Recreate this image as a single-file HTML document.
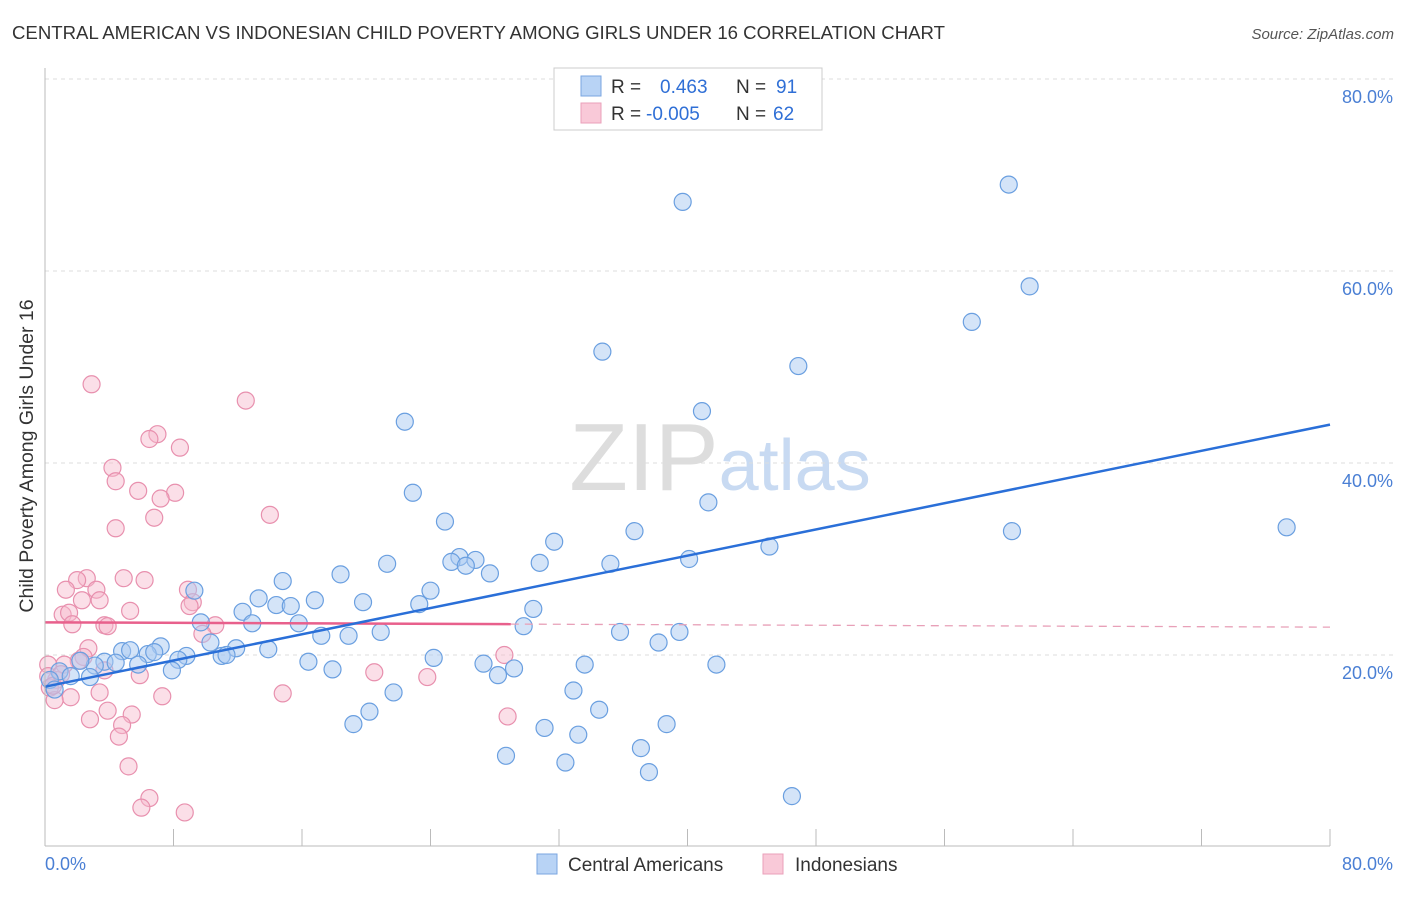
<!DOCTYPE html>
<html><head><meta charset="utf-8"><style>
body{margin:0;background:#fff;font-family:"Liberation Sans",sans-serif;}
svg text{font-family:"Liberation Sans",sans-serif;}
</style></head><body>
<svg width="1406" height="892" xmlns="http://www.w3.org/2000/svg" id="chart">
<text x="12" y="39" font-size="18.6" fill="#333">CENTRAL AMERICAN VS INDONESIAN CHILD POVERTY AMONG GIRLS UNDER 16 CORRELATION CHART</text>
<text x="1394" y="39" font-size="15" fill="#555" text-anchor="end" font-style="italic">Source: ZipAtlas.com</text>
<text x="720" y="490" font-size="96" fill="#ddd" text-anchor="middle" font-family="Liberation Serif">ZIP<tspan fill="#c8daf2" font-family="Liberation Sans" font-size="72">atlas</tspan></text>
<text transform="translate(33,456) rotate(-90)" font-size="19.5" fill="#333" text-anchor="middle">Child Poverty Among Girls Under 16</text>
<g id="grid"></g><g id="pts"></g><g id="lines"></g>
<line x1="45" y1="68" x2="45" y2="846" stroke="#bbb"/>
<line x1="45" y1="846" x2="1330" y2="846" stroke="#bbb"/>
<text x="45" y="870" font-size="18" fill="#4a7fd4">0.0%</text>
<text x="1393" y="870" font-size="18" fill="#4a7fd4" text-anchor="end">80.0%</text>
<g>
<rect x="554" y="68" width="268" height="62" fill="#fff" stroke="#ccc"/>
<rect x="581" y="76" width="20" height="20" fill="#b8d3f5" stroke="#7aa6e0"/>
<rect x="581" y="103" width="20" height="20" fill="#f9c9d8" stroke="#eaa0ba"/>
<text x="611" y="93" font-size="19" fill="#333">R = <tspan x="660" fill="#2f6fd6">0.463</tspan><tspan x="736" fill="#333">N = </tspan><tspan x="776" fill="#2f6fd6">91</tspan></text>
<text x="611" y="120" font-size="19" fill="#333">R = <tspan x="646" fill="#2f6fd6">-0.005</tspan><tspan x="736" fill="#333">N = </tspan><tspan x="773" fill="#2f6fd6">62</tspan></text>
</g>
<g>
<rect x="537" y="854" width="20" height="20" fill="#b8d3f5" stroke="#7aa6e0"/>
<text x="568" y="871" font-size="19" fill="#333">Central Americans</text>
<rect x="763" y="854" width="20" height="20" fill="#f9c9d8" stroke="#eaa0ba"/>
<text x="795" y="871" font-size="19" fill="#333">Indonesians</text>
</g>
</svg>
<script>
const yTicks=[20,40,60,80];
const xTicks=[0,8,16,24,32,40,48,56,64,72,80];
const blueX=[39.7,60.0,61.3,57.7,34.7,46.9,40.9,22.4,22.9,41.3,24.9,36.7,77.3,60.2,31.7,45.1,25.8,25.3,26.8,26.2,40.1,30.8,35.2,21.3,27.7,18.4,14.8,24.0,9.3,13.3,16.8,19.8,23.3,14.4,15.3,12.3,30.4,12.9,9.7,15.8,29.8,20.9,35.8,39.5,17.2,18.9,38.2,10.3,7.2,11.9,13.9,4.8,5.3,6.4,6.8,8.8,8.3,11.0,11.3,24.2,16.4,3.7,4.4,3.1,2.2,5.8,33.6,41.8,27.3,29.2,28.2,17.9,7.9,0.9,1.6,2.8,0.3,0.6,21.7,32.9,34.5,20.2,19.2,31.1,38.7,33.2,37.1,28.7,32.4,37.6,46.5];
const blueY=[67.2,69.0,58.4,54.7,51.6,50.1,45.4,44.3,36.9,35.9,33.9,32.9,33.3,32.9,31.8,31.3,30.2,29.7,29.9,29.3,30.0,29.6,29.5,29.5,28.5,28.4,27.7,26.7,26.7,25.9,25.7,25.5,25.3,25.2,25.1,24.5,24.8,23.3,23.4,23.3,23.0,22.4,22.4,22.4,22.0,22.0,21.3,21.3,20.9,20.7,20.6,20.4,20.5,20.1,20.3,19.9,19.5,19.9,20.0,19.7,19.3,19.3,19.2,18.9,19.4,19.0,19.0,19.0,19.1,18.6,17.9,18.5,18.4,18.3,17.8,17.7,17.4,16.4,16.1,16.3,14.3,14.1,12.8,12.4,12.8,11.7,10.3,9.5,8.8,7.8,5.3];
const pinkX=[2.9,12.5,7.0,6.5,8.4,4.2,4.4,5.8,8.1,7.2,14.0,6.8,4.4,4.9,6.2,2.6,2.0,8.9,1.3,3.2,2.3,3.4,9.2,9.0,5.3,1.1,1.5,1.7,3.7,3.9,10.6,9.8,2.7,2.4,2.1,1.2,0.2,28.6,3.7,5.9,20.5,23.8,0.7,0.3,3.4,1.6,0.6,7.3,14.8,3.9,5.4,2.8,28.8,4.8,4.6,5.2,6.5,6.0,8.7,0.2,0.5,1.0];
const pinkY=[48.2,46.5,43.0,42.5,41.6,39.5,38.1,37.1,36.9,36.3,34.6,34.3,33.2,28.0,27.8,28.0,27.8,26.8,26.8,26.8,25.7,25.7,25.5,25.1,24.6,24.2,24.4,23.2,23.1,23.0,23.1,22.2,20.7,19.8,19.4,19.0,19.0,20.0,18.4,17.9,18.2,17.7,17.4,16.6,16.1,15.6,15.3,15.7,16.0,14.2,13.8,13.3,13.6,12.7,11.5,8.4,5.1,4.1,3.6,17.8,16.8,18.0];
const blueFit=[16.7,44.0];
const pinkFit=[23.4,22.9];
const pinkSolidEnd=29;
const sx=v=>45+v*(1285/80);
const sy=v=>847-v*9.6;
const NS='http://www.w3.org/2000/svg';
function mk(t,a,p){const e=document.createElementNS(NS,t);for(const k in a)e.setAttribute(k,a[k]);p.appendChild(e);return e;}
const grid=document.getElementById('grid');
yTicks.forEach(t=>{
 const l=mk('line',{x1:45,x2:1393,y1:sy(t),y2:sy(t),stroke:'#ddd','stroke-dasharray':'4,4'},grid);
 
 
 const tx=mk('text',{x:1393,y:sy(t)+24,'font-size':18,fill:'#4a7fd4','text-anchor':'end'},grid);
 tx.textContent=t.toFixed(1)+'%';
 
 
});
xTicks.forEach(t=>{
 const l=mk('line',{x1:sx(t),x2:sx(t),y1:829,y2:846,stroke:'#bbb'},grid);
 
 
});
const pts=document.getElementById('pts');
pinkX.forEach((x,i)=>{
 const c=mk('circle',{cx:sx(x),cy:sy(pinkY[i]),r:8.5,fill:'#f7b9cd','fill-opacity':0.45,stroke:'#e890ae','stroke-width':1.2},pts);
 
 
});
blueX.forEach((x,i)=>{
 const c=mk('circle',{cx:sx(x),cy:sy(blueY[i]),r:8.5,fill:'#a9c9f2','fill-opacity':0.5,stroke:'#6a9fe0','stroke-width':1.2},pts);
 
 
});
const lines=document.getElementById('lines');
const pAt=x=>pinkFit[0]+(pinkFit[1]-pinkFit[0])*x/80;
const l1=mk('line',{x1:sx(0),y1:sy(pAt(0)),x2:sx(pinkSolidEnd),y2:sy(pAt(pinkSolidEnd)),stroke:'#e8608c','stroke-width':2.5},lines);


const l2=mk('line',{x1:sx(pinkSolidEnd),y1:sy(pAt(pinkSolidEnd)),x2:sx(80),y2:sy(pAt(80)),stroke:'#e8a0b8','stroke-width':1.3,'stroke-dasharray':'8,6'},lines);


const l3=mk('line',{x1:sx(0),y1:sy(blueFit[0]),x2:sx(80),y2:sy(blueFit[1]),stroke:'#2a6fd8','stroke-width':2.5},lines);


</script>
</body></html>
